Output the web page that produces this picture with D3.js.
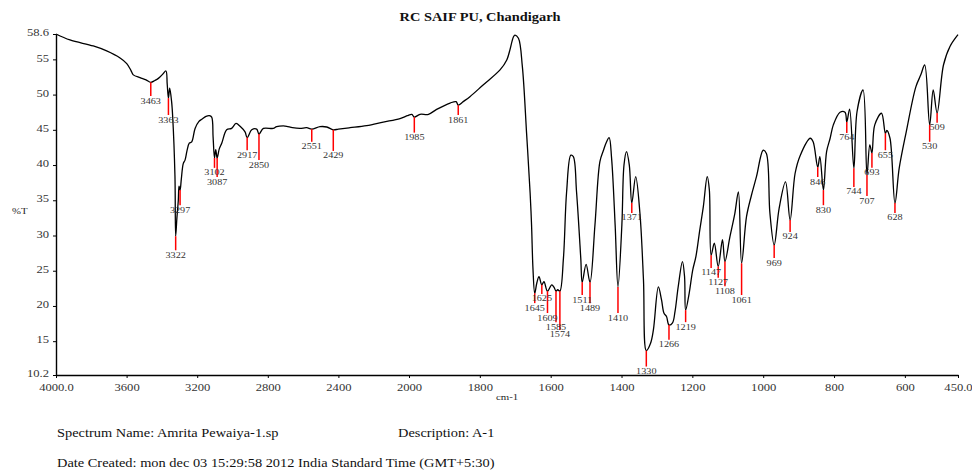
<!DOCTYPE html>
<html>
<head>
<meta charset="utf-8">
<script src="https://cdn.jsdelivr.net/npm/d3@7"></script>
<style>
  html, body { margin: 0; padding: 0; background: #fff; }
  svg { display: block; }
</style>
</head>
<body>
<svg id="chart" width="972" height="474"></svg>
<script>
/** Spectrum data (wavenumber in cm-1, %T) */
const wavenumbers = [
    4000, 3921, 3789, 3713, 3637, 3599, 3575, 3562, 3524, 3490, 3463, 3440, 3420, 3395, 3377, 3370,
    3363, 3356, 3345, 3339, 3326, 3322, 3315, 3307, 3303, 3297, 3290, 3279, 3269, 3258, 3245, 3231,
    3212, 3190, 3174, 3150, 3131, 3118, 3110, 3102, 3095, 3087, 3075, 3061, 3033, 3005, 2980, 2957,
    2929, 2917, 2891, 2863, 2850, 2825, 2769, 2750, 2712, 2693, 2660, 2617, 2580, 2551, 2504, 2466,
    2429, 2400, 2334, 2240, 2146, 2051, 2010, 1992, 1985, 1969, 1945, 1922, 1884, 1867, 1861, 1847,
    1828, 1790, 1743, 1724, 1705, 1701, 1691, 1680, 1668, 1658, 1654, 1650, 1645, 1639, 1633, 1625,
    1619, 1609, 1597, 1590, 1585, 1580, 1574, 1564, 1555, 1543, 1536, 1527, 1515, 1511, 1500, 1489,
    1475, 1461, 1451, 1443, 1435, 1428, 1418, 1410, 1399, 1393, 1386, 1378, 1371, 1360, 1348, 1338,
    1330, 1318, 1310, 1296, 1287, 1280, 1273, 1266, 1256, 1249, 1240, 1228, 1222, 1219, 1209, 1199,
    1190, 1179, 1169, 1158, 1152, 1147, 1138, 1127, 1115, 1108, 1094, 1080, 1070, 1061, 1047, 1033,
    1019, 1000, 991, 981, 969, 955, 937, 924, 910, 896, 867, 859, 846, 840, 830, 821,
    811, 802, 783, 769, 764, 756, 744, 735, 718, 707, 699, 693, 685, 666, 655, 651,
    642, 628, 616, 596, 569, 555, 544, 530, 520, 509, 491, 473, 450
];
const transmittance = [
    58.6, 57.75, 56.9, 56.2, 55.2, 54.4, 53.4, 52.8, 52.4, 52.1, 51.74, 52.0, 52.3, 52.9, 53.35, 51.5,
    49.5, 50.9, 49.0, 46.9, 38.4, 29.9, 32.5, 35.0, 37.0, 36.45, 38.0, 40.2, 40.7, 42.0, 43.1, 43.3,
    45.2, 46.2, 46.5, 46.9, 47.0, 46.8, 44.0, 41.0, 42.2, 41.0, 42.3, 43.1, 45.0, 45.2, 45.9, 45.5,
    44.7, 43.9, 45.0, 45.1, 44.4, 45.2, 45.2, 45.45, 45.55, 45.5, 45.3, 45.2, 45.3, 45.1, 45.45, 45.4,
    45.0, 45.1, 45.3, 45.6, 46.1, 46.6, 47.0, 47.2, 46.8, 47.2, 47.2, 47.9, 48.8, 49.0, 48.5, 49.0,
    49.7, 51.4, 53.5, 54.9, 58.2, 58.45, 58.0, 54.0, 44.5, 36.0, 31.5, 25.3, 21.8, 23.3, 24.15, 23.0,
    23.45, 22.1, 23.0, 22.6, 22.1, 22.3, 22.1, 26.75, 36.2, 41.4, 41.2, 36.2, 26.75, 23.35, 25.9, 23.35,
    31.5, 40.5, 42.1, 43.2, 43.9, 40.95, 31.5, 22.7, 31.5, 40.0, 41.9, 40.0, 34.6, 38.35, 33.15, 23.7,
    13.65, 14.7, 16.6, 22.7, 20.85, 18.95, 18.5, 17.3, 17.6, 19.2, 22.7, 26.3, 24.15, 19.4, 21.8, 25.1,
    27.0, 30.8, 34.1, 38.35, 36.45, 27.2, 28.9, 25.6, 29.4, 26.3, 29.8, 33.15, 36.2, 26.05, 32.7, 35.75,
    38.35, 42.1, 41.65, 33.15, 28.65, 33.85, 37.6, 32.2, 38.8, 41.3, 43.8, 43.3, 39.7, 41.2, 36.45, 41.9,
    43.8, 45.7, 47.5, 47.5, 46.1, 47.95, 39.55, 47.6, 50.65, 38.6, 42.85, 41.7, 45.7, 47.35, 44.5, 44.9,
    43.8, 34.6, 39.55, 44.75, 51.1, 52.8, 54.2, 45.7, 50.65, 47.4, 54.2, 56.8, 58.5
];

/** Peak picks and where each red marker ends (%T) */
const peakLabels = [
    3463, 3363, 3322, 3297, 3102, 3087, 2917, 2850, 2551, 2429, 1985, 1861,
    1645, 1625, 1609, 1585, 1574, 1511, 1489, 1410, 1371, 1330, 1266, 1219,
    1147, 1127, 1108, 1061, 969, 924, 846, 830, 764, 744, 707, 693, 655, 628, 530, 509
];
const peakLineEnd = [
    49.8, 47.1, 27.9, 34.3, 39.6, 38.3, 42.1, 40.7, 43.3, 42.0, 44.6, 47.1,
    20.4, 21.7, 19.0, 17.7, 16.6, 21.55, 20.4, 19.0, 33.2, 11.4, 15.2, 17.7,
    25.4, 24.0, 22.8, 21.55, 26.8, 30.5, 38.3, 34.3, 44.55, 36.9, 35.6, 39.6, 42.1, 33.2, 43.3, 46.0
];

/** Axis ticks */
const xTicks = [4000, 3600, 3200, 2800, 2400, 2000, 1800, 1600, 1400, 1200, 1000, 800, 600, 450];
const xTickText = ['4000.0', '3600', '3200', '2800', '2400', '2000', '1800', '1600', '1400', '1200', '1000', '800', '600', '450.0'];
const yTicks = [58.6, 55, 50, 45, 40, 35, 30, 25, 20, 15, 10.2];
const yTickText = ['58.6', '55', '50', '45', '40', '35', '30', '25', '20', '15', '10.2'];

const titleText = 'RC SAIF PU, Chandigarh';
const footerLines = [
    ['Spectrum Name: Amrita Pewaiya-1.sp', 'Description: A-1'],
    ['Date Created: mon dec 03 15:29:58 2012 India Standard Time (GMT+5:30)']
];

// Layout
const FONT = '"Liberation Serif", "Times New Roman", serif';
const SX = 1.2; // the original text is drawn a bit wide
const plot = { left: 56, right: 958, top: 34, bottom: 375 };

const svg = d3.select('#chart');

// Scales: the instrument doubles the x scale below 2000 cm-1
const xScale = d3.scaleLinear()
    .domain([4000, 2000, 450])
    .range([plot.left, 409, plot.right]);
const yScale = d3.scaleLinear()
    .domain([10.2, 58.6])
    .range([plot.bottom, plot.top]);

// Helper for horizontally stretched text
function addText(parent, x, y, str, size, anchor = 'start', weight = 'normal', fill = '#222') {
    return parent.append('text')
        .attr('transform', `translate(${x},${y}) scale(${SX},1)`)
        .attr('font-family', FONT)
        .attr('font-size', size)
        .attr('font-weight', weight)
        .attr('text-anchor', anchor)
        .attr('fill', fill)
        .text(str);
}

// Title
addText(svg, 480, 20.5, titleText, 12, 'middle', 'bold', '#111');

// Y axis
const yAxis = svg.append('g')
    .attr('transform', `translate(${plot.left},0)`)
    .call(d3.axisLeft(yScale)
        .tickValues(yTicks)
        .tickFormat((d, i) => yTickText[i])
        .tickSize(3)
        .tickSizeOuter(0));
yAxis.select('.domain').attr('stroke', '#000').attr('stroke-width', 1.4);
yAxis.selectAll('.tick line').attr('stroke', '#000');
yAxis.selectAll('.tick text')
    .attr('x', 0)
    .attr('dy', '0.3em')
    .attr('transform', 'translate(-7,-1.5) scale(1.2,1)')
    .attr('font-family', FONT)
    .attr('font-size', 10.5)
    .attr('fill', '#333');

// X axis
const xAxis = svg.append('g')
    .attr('transform', `translate(0,${plot.bottom})`)
    .call(d3.axisBottom(xScale)
        .tickValues(xTicks)
        .tickFormat((d, i) => xTickText[i])
        .tickSize(3)
        .tickSizeOuter(0));
xAxis.select('.domain').attr('stroke', '#000').attr('stroke-width', 1.4);
xAxis.selectAll('.tick line').attr('stroke', '#000');
xAxis.selectAll('.tick text')
    .attr('y', 0)
    .attr('dy', 0)
    .attr('transform', 'translate(0,16) scale(1.2,1)')
    .attr('font-family', FONT)
    .attr('font-size', 10.5)
    .attr('fill', '#333');

// Axis titles
addText(svg, 12, 214, '%T', 9, 'start');
addText(svg, 496, 400, 'cm-1', 9, 'start');

// Spectrum trace
const spectrum = wavenumbers.map((w, i) => ({ w, t: transmittance[i] }));
const lineGenerator = d3.line()
    .x(d => xScale(d.w))
    .y(d => yScale(d.t))
    .curve(d3.curveCatmullRom.alpha(0.5));

svg.append('path')
    .datum(spectrum)
    .attr('fill', 'none')
    .attr('stroke', '#000')
    .attr('stroke-width', 1.3)
    .attr('stroke-linejoin', 'round')
    .attr('d', lineGenerator);

// Peak markers
const tAt = new Map(spectrum.map(d => [d.w, d.t]));
const peaks = peakLabels.map((w, i) => ({ w, t: tAt.get(w), end: peakLineEnd[i] }));

const peakG = svg.append('g');
peakG.selectAll('line')
    .data(peaks)
    .enter()
    .append('line')
    .attr('x1', d => xScale(d.w))
    .attr('x2', d => xScale(d.w))
    .attr('y1', d => yScale(d.t))
    .attr('y2', d => yScale(d.end))
    .attr('stroke', '#ff0000')
    .attr('stroke-width', 1.5);

peaks.forEach(d => {
    addText(peakG, xScale(d.w), yScale(d.end) + 7.5, String(d.w), 8.5, 'middle', 'normal', '#333');
});

// Footer
addText(svg, 57, 437, footerLines[0][0], 12, 'start', 'normal', '#111');
addText(svg, 398, 437, footerLines[0][1], 12, 'start', 'normal', '#111');
addText(svg, 57, 467, footerLines[1][0], 12, 'start', 'normal', '#111');
</script>
</body>
</html>
